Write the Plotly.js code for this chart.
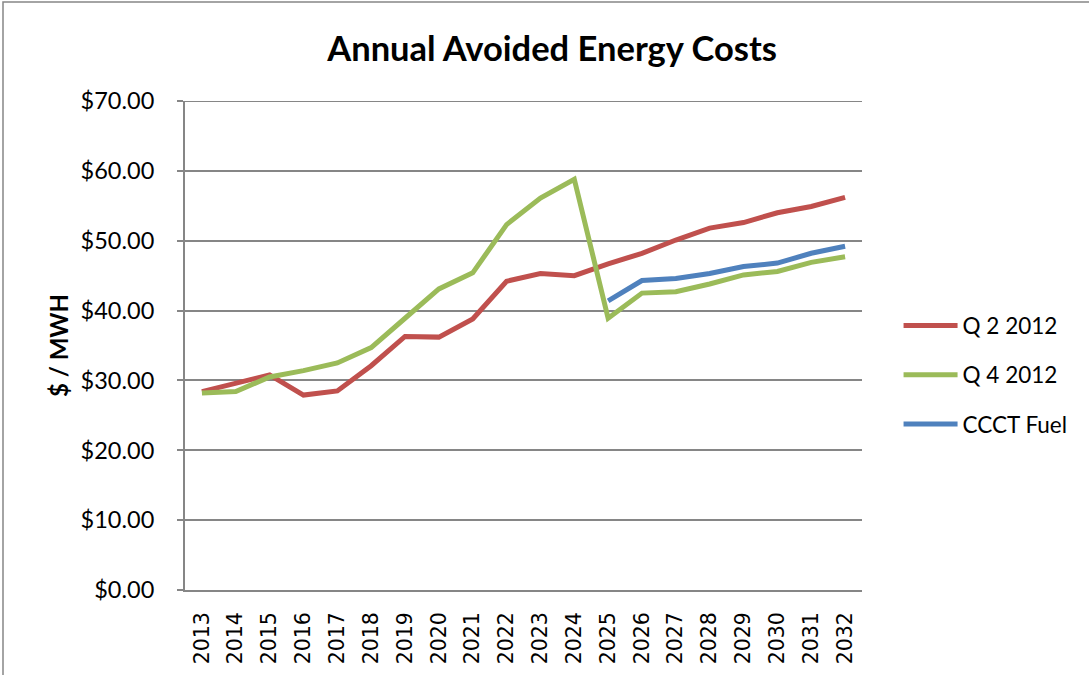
<!DOCTYPE html>
<html>
<head>
<meta charset="utf-8">
<script src="https://cdn.plot.ly/plotly-3.0.1.min.js"></script>
<style>
html,body{margin:0;padding:0;background:#fff;}
#chart{width:1089px;height:675px;}
</style>
</head>
<body>
<div id="chart"></div>
<script>
const years = ["2013","2014","2015","2016","2017","2018","2019","2020","2021","2022","2023","2024","2025","2026","2027","2028","2029","2030","2031","2032"];
const q2_2012 = [28.4,29.6,30.8,27.9,28.5,32.1,36.3,36.2,38.8,44.2,45.3,45.0,46.7,48.2,50.1,51.8,52.6,54.0,54.9,56.2];
const q4_2012 = [28.2,28.4,30.5,31.4,32.5,34.7,38.9,43.1,45.4,52.3,56.1,58.8,38.9,42.5,42.7,43.8,45.1,45.6,46.9,47.7];
const ccctFuel = [null,null,null,null,null,null,null,null,null,null,null,null,41.4,44.3,44.6,45.3,46.3,46.8,48.2,49.2];
const yTicks = [0,10,20,30,40,50,60,70];
const yTickText = ["$0.00","$10.00","$20.00","$30.00","$40.00","$50.00","$60.00","$70.00"];

const mk = (name, y, color, grp) => ({
  type: "scatter", mode: "lines", name: name, x: years, y: y,
  line: {color: color, width: 5}, legendgroup: grp, connectgaps: false
});

const data = [
  mk("Q 2 2012", q2_2012, "#C0504D", "a"),
  mk("Q 4 2012", q4_2012, "#9BBB59", "b"),
  mk("CCCT Fuel", ccctFuel, "#4F81BD", "c")
];

const layout = {
  width: 1089, height: 675,
  margin: {l: 185, r: 227, t: 101, b: 85},
  paper_bgcolor: "#ffffff", plot_bgcolor: "#ffffff",
  title: {text: "<b>Annual Avoided Energy Costs</b>", font: {family: "Lato", size: 34.5, color: "#000"},
          x: 0.507, xanchor: "center", y: 0.928, yanchor: "middle"},
  xaxis: {
    type: "category", tickangle: -90, range: [-0.5, 19.5],
    tickfont: {family: "DejaVu Sans", size: 20.5, color: "#000"},
    showgrid: false, showline: true, linecolor: "#868686", linewidth: 2,
    ticks: "", ticklabelstandoff: 12, zeroline: false
  },
  yaxis: {
    range: [0, 70], tickvals: yTicks, ticktext: yTickText,
    tickfont: {family: "Lato", size: 23.5, color: "#000"},
    showgrid: true, gridcolor: "#868686", gridwidth: 2,
    showline: true, linecolor: "#868686", linewidth: 2,
    ticks: "outside", ticklen: 6, tickcolor: "#868686", tickwidth: 2,
    ticklabelstandoff: 18, zeroline: false,
    title: {text: "<b>$ / MWH</b>", font: {family: "Lato", size: 24, color: "#000"}, standoff: 5}
  },
  legend: {
    x: 1.054, xanchor: "left", y: 0.44, yanchor: "middle",
    font: {family: "Lato", size: 22.5, color: "#000"},
    traceorder: "grouped", tracegroupgap: 17,
    bgcolor: "rgba(0,0,0,0)", itemwidth: 54
  },
  showlegend: true,
  shapes: [{
    type: "rect", xref: "paper", yref: "paper",
    x0: (3-185)/677, x1: (1095-185)/677, y0: (590-680)/489, y1: (590-2)/489,
    line: {color: "#868686", width: 1.5}, fillcolor: "rgba(0,0,0,0)", layer: "below"
  }, {
    type: "line", xref: "paper", yref: "y", x0: 0, x1: 1, y0: 70, y1: 70,
    line: {color: "#868686", width: 2}, layer: "below"
  }]
};

Plotly.newPlot("chart", data, layout, {displayModeBar: false, staticPlot: true});
</script>
</body>
</html>
